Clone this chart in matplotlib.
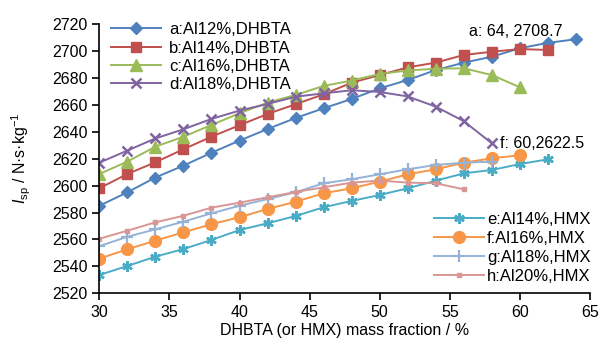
import matplotlib
matplotlib.use('Agg')
from matplotlib import pyplot as plt

plt.rcParams['font.family'] = ['Liberation Sans', 'DejaVu Sans']
plt.rcParams['mathtext.fontset'] = 'custom'
plt.rcParams['mathtext.rm'] = 'Liberation Sans'
plt.rcParams['mathtext.it'] = 'Liberation Sans:italic'

# DHBTA series (x = DHBTA mass fraction)
x_a = [30, 32, 34, 36, 38, 40, 42, 44, 46, 48, 50, 52, 54, 56, 58, 60, 62, 64]
a_vals = [2585, 2595, 2606, 2614.8, 2624.4, 2633.4, 2642, 2650.2, 2657.4, 2664.3,
          2672.2, 2678.4, 2685.8, 2691.3, 2695.7, 2702, 2706, 2708.7]
x_b = [30, 32, 34, 36, 38, 40, 42, 44, 46, 48, 50, 52, 54, 56, 58, 60, 62]
b_vals = [2598, 2608.6, 2617.3, 2627, 2636.3, 2644.8, 2653.2, 2660.4, 2667.8, 2676.4,
          2682.1, 2687.8, 2691.3, 2697, 2699.4, 2701.4, 2700.7]
x_c = [30, 32, 34, 36, 38, 40, 42, 44, 46, 48, 50, 52, 54, 56, 58, 60]
c_vals = [2608.6, 2617.8, 2628.9, 2636.3, 2645, 2653.7, 2661.6, 2667.3, 2674, 2678,
          2682.9, 2685.5, 2686.8, 2687.1, 2682.1, 2673]
x_d = [30, 32, 34, 36, 38, 40, 42, 44, 46, 48, 50, 52, 54, 56, 58]
d_vals = [2617, 2626, 2635, 2641.8, 2649.5, 2655.7, 2660.6, 2666, 2668.5, 2670.8,
          2669.5, 2666.2, 2658.6, 2647.8, 2631.4]

# HMX series (x = HMX mass fraction)
x_e = [30, 32, 34, 36, 38, 40, 42, 44, 46, 48, 50, 52, 54, 56, 58, 60, 62]
e_vals = [2533.6, 2540.3, 2547.2, 2552.9, 2559.6, 2567, 2572, 2577.4, 2583.9, 2588.6,
          2593, 2598, 2603.6, 2609.1, 2611.6, 2616, 2619.5]
x_f = [30, 32, 34, 36, 38, 40, 42, 44, 46, 48, 50, 52, 54, 56, 58, 60]
f_vals = [2545.7, 2552.7, 2559.1, 2565.3, 2571.3, 2576.5, 2582.6, 2588, 2594.3, 2598,
          2602.9, 2608.4, 2612.1, 2617, 2620.3, 2622.5]
x_g = [30, 32, 34, 36, 38, 40, 42, 44, 46, 48, 50, 52, 54, 56, 58]
g_vals = [2555, 2562, 2567.5, 2573.2, 2579.4, 2585, 2590, 2595, 2601.7, 2604.7,
          2608.4, 2612.1, 2615.3, 2617, 2617.8]
x_h = [30, 32, 34, 36, 38, 40, 42, 44, 46, 48, 50, 52, 54, 56]
h_vals = [2560.5, 2566.5, 2572.7, 2577.6, 2583.6, 2587.3, 2591.3, 2595.2, 2598.7, 2602.2,
          2603.7, 2602.2, 2601.7, 2597.2]

fig = plt.figure(figsize=(6.02, 3.45), dpi=100)
ax = fig.add_axes([99.3 / 602, 1 - 293.3 / 345, (590 - 99.3) / 602, (293.3 - 24) / 345])

lw = 1.4
la, = ax.plot(x_a, a_vals, color='#4F81BD', lw=lw, marker='D', ms=6, label='a:Al12%,DHBTA')
lb, = ax.plot(x_b, b_vals, color='#C0504D', lw=lw, marker='s', ms=7.5, label='b:Al14%,DHBTA')
lc, = ax.plot(x_c, c_vals, color='#9BBB59', lw=lw, marker='^', ms=8, label='c:Al16%,DHBTA')
ld, = ax.plot(x_d, d_vals, color='#8064A2', lw=lw, marker='x', ms=7, mew=1.8, label='d:Al18%,DHBTA')
le, = ax.plot(x_e, e_vals, color='#4BACC6', lw=lw, marker=(6, 2, 0), ms=7.5, mew=1.8, label='e:Al14%,HMX')
lf, = ax.plot(x_f, f_vals, color='#F79646', lw=lw, marker='o', ms=8.5, label='f:Al16%,HMX')
lg, = ax.plot(x_g, g_vals, color='#95B3D7', lw=lw, marker='+', ms=8, mew=1.6, label='g:Al18%,HMX')
lh, = ax.plot(x_h, h_vals, color='#D99694', lw=lw, marker='s', ms=3.5, label='h:Al20%,HMX')

ax.set_xlim(30, 65)
ax.set_ylim(2520, 2720)
ax.set_xticks(range(30, 66, 5))
ax.set_yticks(range(2520, 2721, 20))
for s in ['top', 'right']:
    ax.spines[s].set_visible(False)
for s in ['left', 'bottom']:
    ax.spines[s].set_linewidth(1.2)
ax.tick_params(direction='out', length=5, width=1.2, labelsize=11.5)

ax.set_xlabel('DHBTA (or HMX) mass fraction / %', fontsize=11.5, labelpad=2)
ax.set_ylabel(r'$I_{\mathrm{sp}}$ / N·s·kg$^{-1}$', fontsize=11.5, labelpad=14)

leg1 = ax.legend(handles=[la, lb, lc, ld], loc='upper left', bbox_to_anchor=(0.0, 1.05),
                 frameon=False, fontsize=12, handlelength=3.0, labelspacing=0.2,
                 handletextpad=0.5, borderaxespad=0.3)
ax.add_artist(leg1)
ax.legend(handles=[le, lf, lg, lh], loc='lower right', bbox_to_anchor=(1.025, -0.01),
          frameon=False, fontsize=12, handlelength=3.0, labelspacing=0.24,
          handletextpad=0.2, borderaxespad=0.3)

ax.text(63.07, 2714.3, 'a: 64, 2708.7', fontsize=11.5, ha='right', va='center')
ax.text(58.58, 2631.4, 'f: 60,2622.5', fontsize=11.5, ha='left', va='center')

fig.savefig('out.png', dpi=100)
